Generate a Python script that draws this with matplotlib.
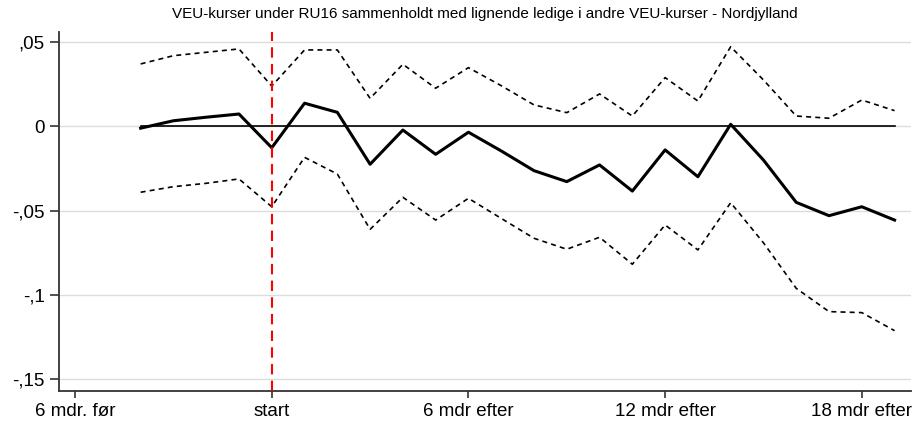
import matplotlib
matplotlib.use("Agg")
import matplotlib.pyplot as plt

# months relative to course start
months = list(range(-4, 20))

estimate = [-0.001, 0.0034, 0.0055, 0.0074, -0.0126, 0.0138, 0.0084, -0.0224,
            -0.0021, -0.0165, -0.0034, -0.0145, -0.0262, -0.0327, -0.0228, -0.0383,
            -0.0139, -0.0298, 0.0013, -0.0199, -0.045, -0.0529, -0.0476, -0.0555]

upper = [0.0371, 0.042, 0.044, 0.046, 0.024, 0.0454, 0.0454, 0.0167,
         0.0369, 0.0227, 0.0349, 0.0242, 0.0128, 0.0082, 0.0193, 0.0062,
         0.029, 0.0151, 0.0473, 0.0276, 0.0062, 0.0049, 0.0157, 0.0094]

lower = [-0.039, -0.0357, -0.0337, -0.0311, -0.0476, -0.0183, -0.0282, -0.061,
         -0.042, -0.0555, -0.0426, -0.0545, -0.0663, -0.0728, -0.0657, -0.0817,
         -0.0584, -0.0732, -0.0452, -0.069, -0.096, -0.1098, -0.1104, -0.1211]

xticks = [-6, 0, 6, 12, 18]
xlabels = ["6 mdr. før", "start", "6 mdr efter", "12 mdr efter", "18 mdr efter"]
yticks = [0.05, 0, -0.05, -0.1, -0.15]
ylabels = [",05", "0", "-,05", "-,1", "-,15"]

title = "VEU-kurser under RU16 sammenholdt med lignende ledige i andre VEU-kurser - Nordjylland"

plt.rcParams["font.family"] = ["Liberation Sans", "DejaVu Sans"]

fig = plt.figure(figsize=(9.16, 4.22), dpi=100)
ax = fig.add_axes([0.0648, 0.0742, 0.9297, 0.8498])

for y in yticks:
    ax.axhline(y, color="#dcdcdc", lw=1.0, zorder=0)

ax.plot(months, [0] * len(months), color="black", lw=1.2, zorder=2)
ax.plot(months, upper, color="black", lw=1.2, ls=(0, (3, 2.5)), zorder=3)
ax.plot(months, lower, color="black", lw=1.2, ls=(0, (3, 2.5)), zorder=3)
ax.plot(months, estimate, color="black", lw=2.2, zorder=4)
ax.axvline(0, color="#ff0000", lw=1.5, ls=(0, (5, 3)), zorder=5)

ax.set_xlim(-6.48, 19.5)
ax.set_ylim(-0.1567, 0.056)
ax.set_xticks(xticks)
ax.set_xticklabels(xlabels, fontsize=13.5)
ax.set_yticks(yticks)
ax.set_yticklabels(ylabels, fontsize=13.5)
ax.tick_params(axis="y", direction="out", length=6.5, width=1.2, color="#333333", pad=4)
ax.tick_params(axis="x", direction="out", length=5, width=1.2, color="#333333", pad=4)

for s in ["top", "right"]:
    ax.spines[s].set_visible(False)
for s in ["left", "bottom"]:
    ax.spines[s].set_linewidth(1.3)
    ax.spines[s].set_color("#333333")

ax.set_title(title, fontsize=11, pad=10)

fig.savefig("out.png", dpi=100)
